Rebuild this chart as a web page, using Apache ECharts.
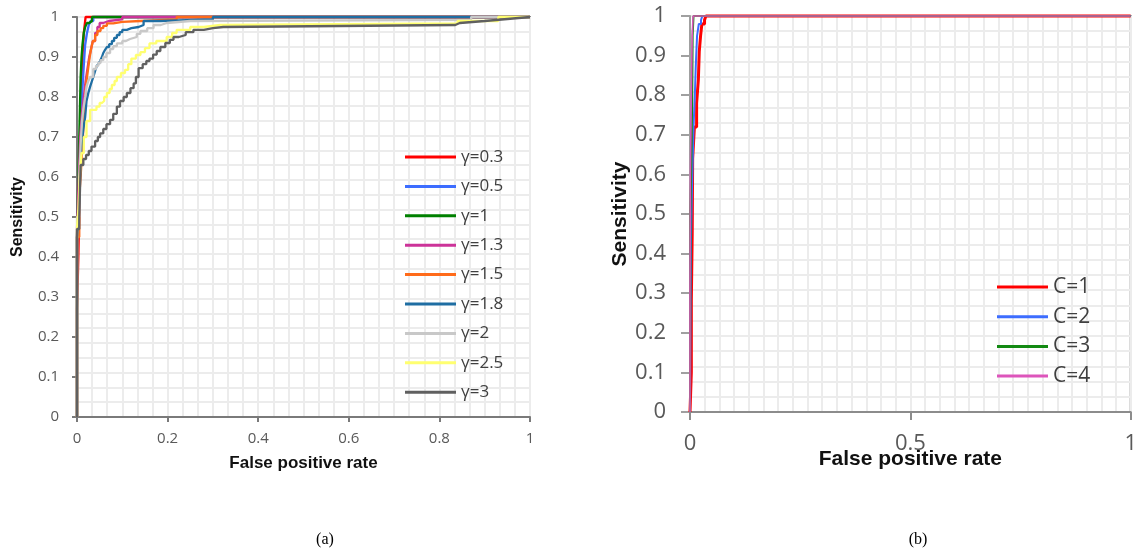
<!DOCTYPE html>
<html>
<head>
<meta charset="utf-8">
<script src="https://cdn.jsdelivr.net/npm/echarts@6/dist/echarts.min.js"></script>
<style>
html,body{margin:0;padding:0;background:#fff;}
#chart{width:1140px;height:553px;}
</style>
</head>
<body>
<div id="chart"></div>
<script>
// ---------- Data (ROC points: [false positive rate, sensitivity]) ----------
const namesA = ['γ=0.3','γ=0.5','γ=1','γ=1.3','γ=1.5','γ=1.8','γ=2','γ=2.5','γ=3'];
const colorsA = ['#ff0000','#3d6dff','#008000','#cc3399','#ff6b1a','#1f6ea3','#c8c8c8','#ffff70','#606060'];
const g03 = [[0,0],[0,0.27],[0.003,0.4],[0.005,0.52],[0.007,0.64],[0.009,0.76],[0.011,0.86],[0.013,0.92],[0.015,0.96],[0.017,0.98],[0.019,1],[1,1]];
const g05 = [[0,0],[0,0.45],[0.004,0.6],[0.007,0.68],[0.009,0.76],[0.012,0.82],[0.015,0.88],[0.018,0.93],[0.022,0.96],[0.026,0.98],[0.03,0.99],[0.036,1],[1,1]];
const g1  = [[0,0],[0,0.45],[0.003,0.6],[0.006,0.75],[0.008,0.85],[0.01,0.9],[0.012,0.93],[0.015,0.96],[0.018,0.975],[0.022,0.985],[0.027,0.99],[0.033,1],[1,1]];
const g13 = [[0,0],[0,0.47],[0.004,0.6],[0.007,0.7],[0.011,0.76],[0.015,0.8],[0.019,0.84],[0.023,0.87],[0.027,0.9],[0.031,0.92],[0.035,0.94],[0.04,0.96],[0.045,0.975],[0.05,0.985],[0.058,0.99],[0.07,0.994],[0.1,1],[1,1]];
const g15 = [[0,0],[0,0.45],[0.005,0.55],[0.009,0.62],[0.012,0.68],[0.015,0.74],[0.018,0.8],[0.021,0.84],[0.025,0.875],[0.028,0.9],[0.031,0.92],[0.035,0.94],[0.04,0.955],[0.045,0.965],[0.052,0.972],[0.058,0.978],[0.066,0.984],[0.08,0.988],[0.1,0.99],[0.14,0.994],[0.22,1],[1,1]];
const g18 = [[0,0],[0,0.45],[0.004,0.5],[0.006,0.56],[0.007,0.62],[0.01,0.68],[0.014,0.72],[0.018,0.75],[0.021,0.79],[0.025,0.81],[0.029,0.826],[0.033,0.84],[0.036,0.85],[0.04,0.865],[0.043,0.876],[0.047,0.883],[0.051,0.89],[0.055,0.9],[0.058,0.91],[0.062,0.918],[0.066,0.925],[0.071,0.932],[0.077,0.94],[0.082,0.948],[0.088,0.955],[0.094,0.962],[0.1,0.968],[0.11,0.972],[0.12,0.975],[0.136,0.98],[0.147,0.99],[0.184,0.994],[0.3,1],[1,1]];
const g2  = [[0,0],[0,0.5],[0.005,0.6],[0.008,0.68],[0.011,0.74],[0.014,0.77],[0.018,0.8],[0.021,0.826],[0.025,0.84],[0.029,0.85],[0.036,0.87],[0.042,0.878],[0.047,0.885],[0.052,0.892],[0.058,0.9],[0.065,0.91],[0.073,0.92],[0.08,0.927],[0.088,0.934],[0.1,0.94],[0.108,0.945],[0.117,0.95],[0.132,0.958],[0.14,0.965],[0.155,0.972],[0.169,0.98],[0.185,0.985],[0.198,0.99],[0.25,0.993],[0.87,1],[1,1]];
const g25 = [[0,0],[0,0.47],[0.003,0.52],[0.006,0.6],[0.01,0.66],[0.015,0.7],[0.021,0.74],[0.029,0.768],[0.043,0.776],[0.05,0.785],[0.055,0.79],[0.06,0.8],[0.066,0.81],[0.072,0.82],[0.077,0.83],[0.083,0.84],[0.088,0.85],[0.097,0.86],[0.106,0.868],[0.113,0.882],[0.12,0.896],[0.13,0.905],[0.14,0.912],[0.15,0.922],[0.16,0.934],[0.175,0.94],[0.198,0.95],[0.21,0.96],[0.22,0.968],[0.25,0.975],[0.28,0.98],[0.316,0.984],[0.84,0.99],[0.93,1],[1,1]];
const g3  = [[0,0],[0,0.47],[0.005,0.5],[0.008,0.63],[0.014,0.645],[0.02,0.655],[0.026,0.665],[0.032,0.676],[0.04,0.69],[0.046,0.7],[0.051,0.709],[0.058,0.72],[0.065,0.732],[0.073,0.743],[0.08,0.758],[0.088,0.776],[0.095,0.79],[0.103,0.8],[0.11,0.81],[0.118,0.822],[0.125,0.834],[0.13,0.85],[0.136,0.872],[0.145,0.882],[0.153,0.89],[0.16,0.896],[0.168,0.906],[0.176,0.915],[0.184,0.925],[0.195,0.935],[0.205,0.943],[0.213,0.95],[0.225,0.955],[0.24,0.962],[0.257,0.968],[0.28,0.972],[0.3,0.975],[0.323,0.98],[0.835,0.985],[0.845,0.99],[0.9,0.995],[0.95,1],[1,1]];
const dataA = [g03,g05,g1,g13,g15,g18,g2,g25,g3];

const namesB = ['C=1','C=2','C=3','C=4'];
const colorsB = ['#ff0000','#3d6dff','#138a13','#dd55bb'];
const c1 = [[0,0],[0.003,0.1],[0.003,0.28],[0.005,0.45],[0.006,0.64],[0.01,0.72],[0.015,0.78],[0.019,0.84],[0.021,0.91],[0.024,0.95],[0.027,0.98],[0.033,0.99],[0.036,1],[1,1]];
const c2 = [[0,0],[0.002,0.42],[0.004,0.54],[0.008,0.72],[0.011,0.8],[0.013,0.87],[0.016,0.95],[0.02,0.98],[0.025,0.99],[0.028,1],[1,1]];
const c3 = [[0,0],[0,0.1],[0.001,0.5],[0.003,0.63],[0.005,0.79],[0.006,0.95],[0.008,1],[1,1]];
const c4 = [[0,0],[0,0.3],[0.001,0.6],[0.003,0.8],[0.005,0.95],[0.007,1],[1,1]];
const dataB = [c1,c2,c3,c4];

const ticksAX = [0,0.2,0.4,0.6,0.8,1];
const ticksAY = [0,0.1,0.2,0.3,0.4,0.5,0.6,0.7,0.8,0.9,1];
const ticksBX = [0,0.5,1];

// ---------- Styling helpers ----------
const LBL = '#595959';
const fmt = v => String(+(+v).toFixed(2));

function mainAxis(gi, interval, lineColor, fontSize, margin, tickLen, name, nameSize, nameGap, moveOverlap) {
  return {
    type:'value', gridIndex:gi, min:0, max:1, interval:interval,
    axisLine:{show:true, onZero:false, lineStyle:{color:lineColor, width:2}},
    axisTick:{show:true, length:tickLen, lineStyle:{color:lineColor, width:2}},
    axisLabel:{color:LBL, fontSize:fontSize, fontFamily:'Open Sans', margin:margin, formatter:fmt},
    splitLine:{show:false},
    name:name, nameLocation:'middle', nameGap:nameGap, nameMoveOverlap:moveOverlap,
    nameTextStyle:{fontFamily:'Liberation Sans', fontWeight:'bold', fontSize:nameSize, color:'#111'}
  };
}
function innerTickAxis(gi, interval, lineColor, tickLen) {
  return {
    type:'value', gridIndex:gi, min:0, max:1, interval:interval,
    axisLine:{show:false}, axisLabel:{show:false}, splitLine:{show:false},
    axisTick:{show:true, inside:true, length:tickLen, lineStyle:{color:lineColor, width:2}}
  };
}
function gridAxis(gi, interval) {
  return {
    type:'value', gridIndex:gi, min:0, max:1, interval:interval,
    axisLine:{show:false}, axisLabel:{show:false}, axisTick:{show:false},
    splitLine:{show:true, lineStyle:{color:'#ececec', width:2}}
  };
}

const xAxis = [
  mainAxis(0, 0.2, '#7a7a7a', 15, 14, 5, 'False positive rate', 17, 38, true),
  innerTickAxis(0, 0.2, '#7a7a7a', 5),
  gridAxis(0, 1/30),
  mainAxis(1, 0.5, '#8c8c8c', 22, 21, 8, 'False positive rate', 21, 37, false),
  innerTickAxis(1, 0.5, '#8c8c8c', 8),
  gridAxis(1, 1/30)
];
const yAxis = [
  mainAxis(0, 0.1, '#7a7a7a', 15, 18, 5, 'Sensitivity', 16, 51, true),
  innerTickAxis(0, 0.1, '#7a7a7a', 5),
  gridAxis(0, 1/27),
  mainAxis(1, 0.1, '#a0a0a0', 22, 24, 9, 'Sensitivity', 21, 56, true),
  innerTickAxis(1, 0.1, '#a0a0a0', 9),
  gridAxis(1, 1/26)
];

const series = [];
namesA.forEach((n,i) => series.push({
  name:n, type:'line', xAxisIndex:0, yAxisIndex:0, data:dataA[i], step:'end',
  showSymbol:false, clip:false, color:colorsA[i],
  lineStyle:{width:2.3, color:colorsA[i]}
}));
namesB.forEach((n,i) => series.push({
  name:n, type:'line', xAxisIndex:3, yAxisIndex:3, data:dataB[i], step:'end',
  showSymbol:false, clip:false, color:colorsB[i],
  lineStyle:{width: i===0 ? 3 : (i===3 ? 1.6 : 2), color:colorsB[i]}
}));

const option = {
  animation:false,
  backgroundColor:'#ffffff',
  grid:[
    {left:77, top:17, width:453, height:400, show:true, borderColor:'#8a8a8a', borderWidth:2, backgroundColor:'transparent'},
    {left:690, top:16, width:443, height:396, show:true, borderColor:'#8a8a8a', borderWidth:2, backgroundColor:'transparent'}
  ],
  xAxis:xAxis,
  yAxis:yAxis,
  legend:[
    {data:namesA, orient:'vertical', left:405, top:147, padding:0, itemWidth:51, itemHeight:3, icon:'rect',
     itemGap:9.4, textStyle:{fontFamily:'Open Sans', fontSize:17, lineHeight:20, color:'#404040'}},
    {data:namesB, orient:'vertical', left:997, top:275, padding:0, itemWidth:51, itemHeight:3, icon:'rect',
     itemGap:5.7, textStyle:{fontFamily:'Open Sans', fontSize:21, lineHeight:24, color:'#404040'}}
  ],
  graphic:[
    {type:'text', x:325, y:540, style:{text:'(a)', font:'16px "Liberation Serif"', fill:'#000', textAlign:'center', textVerticalAlign:'middle'}},
    {type:'text', x:918, y:540, style:{text:'(b)', font:'16px "Liberation Serif"', fill:'#000', textAlign:'center', textVerticalAlign:'middle'}}
  ],
  series:series
};

const chart = echarts.init(document.getElementById('chart'), null, {renderer:'canvas'});
chart.setOption(option);
</script>
</body>
</html>
